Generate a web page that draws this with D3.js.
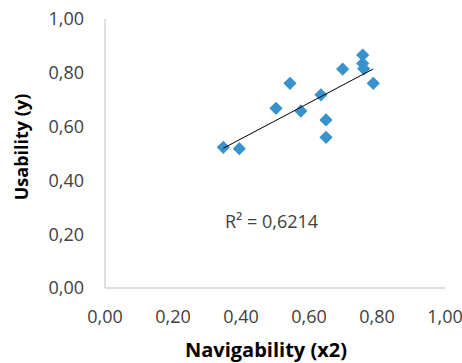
<!DOCTYPE html>
<html><head><meta charset="utf-8">
<script src="https://cdn.jsdelivr.net/npm/d3@7"></script>
<style>body{margin:0;background:#fff}svg{display:block}</style>
</head><body>
<script>
const navigability = [0.348, 0.395, 0.503, 0.544, 0.576, 0.635, 0.650, 0.650, 0.699, 0.758, 0.758, 0.761, 0.789];
const usability    = [0.523, 0.518, 0.668, 0.761, 0.658, 0.718, 0.625, 0.560, 0.814, 0.866, 0.835, 0.815, 0.761];
const xTicks = [0, 0.2, 0.4, 0.6, 0.8, 1.0];
const yTicks = [0, 0.2, 0.4, 0.6, 0.8, 1.0];
const xTickLabels = ["0,00", "0,20", "0,40", "0,60", "0,80", "1,00"];
const yTickLabels = ["0,00", "0,20", "0,40", "0,60", "0,80", "1,00"];
const r2Label = "R² = 0,6214";

const W = 462, H = 363;
const svg = d3.select("body").append("svg").attr("width", W).attr("height", H);
const x = d3.scaleLinear().domain([0, 1]).range([105, 445]);
const y = d3.scaleLinear().domain([0, 1]).range([288, 19]);
const font = "'Open Sans', 'Liberation Sans', sans-serif";

// axes lines
svg.append("line").attr("x1", x(0)).attr("x2", x(0)).attr("y1", y(0)).attr("y2", y(1))
  .attr("stroke", "#bfbfbf").attr("stroke-width", 1);
svg.append("line").attr("x1", x(0)).attr("x2", x(1)).attr("y1", y(0)).attr("y2", y(0))
  .attr("stroke", "#bfbfbf").attr("stroke-width", 1);

// tick labels
svg.selectAll("text.yt").data(yTicks).join("text").attr("class", "yt")
  .attr("x", 84).attr("y", d => y(d)).attr("dy", "0.35em").attr("text-anchor", "end")
  .attr("font-family", font).attr("font-size", 18).attr("fill", "#404040")
  .text((d, i) => yTickLabels[i]);
svg.selectAll("text.xt").data(xTicks).join("text").attr("class", "xt")
  .attr("x", d => x(d)).attr("y", 317).attr("dy", "0.35em").attr("text-anchor", "middle")
  .attr("font-family", font).attr("font-size", 18).attr("fill", "#404040")
  .text((d, i) => xTickLabels[i]);

// axis titles
svg.append("text").attr("transform", `translate(22,147) rotate(-90)`)
  .attr("text-anchor", "middle").attr("dy", "0.35em")
  .attr("font-family", font).attr("font-weight", "bold").attr("font-size", 18).attr("fill", "#000")
  .text("Usability (y)");
svg.append("text").attr("x", 266).attr("y", 357)
  .attr("text-anchor", "middle")
  .attr("font-family", font).attr("font-weight", "bold").attr("font-size", 20).attr("fill", "#000")
  .text("Navigability (x2)");

// points
const pts = navigability.map((v, i) => [v, usability[i]]);
const diamond = d3.symbol().type(d3.symbolDiamond2).size(112);
svg.selectAll("path.pt").data(pts).join("path").attr("class", "pt")
  .attr("transform", d => `translate(${x(d[0])},${y(d[1])})`)
  .attr("d", diamond).attr("fill", "#3893cd");

// trend line (least squares)
const mx = d3.mean(navigability), my = d3.mean(usability);
const sxy = d3.sum(pts, d => (d[0] - mx) * (d[1] - my));
const sxx = d3.sum(pts, d => (d[0] - mx) ** 2);
const b = sxy / sxx, a = my - b * mx;
const x0 = d3.min(navigability), x1 = d3.max(navigability);
svg.append("line").attr("x1", x(x0)).attr("y1", y(a + b * x0)).attr("x2", x(x1)).attr("y2", y(a + b * x1))
  .attr("stroke", "#000").attr("stroke-width", 1);

svg.append("text").attr("x", 225).attr("y", 222).attr("dy", "0.35em")
  .attr("font-family", font).attr("font-size", 18).attr("fill", "#404040")
  .text(r2Label);
</script>
</body></html>
